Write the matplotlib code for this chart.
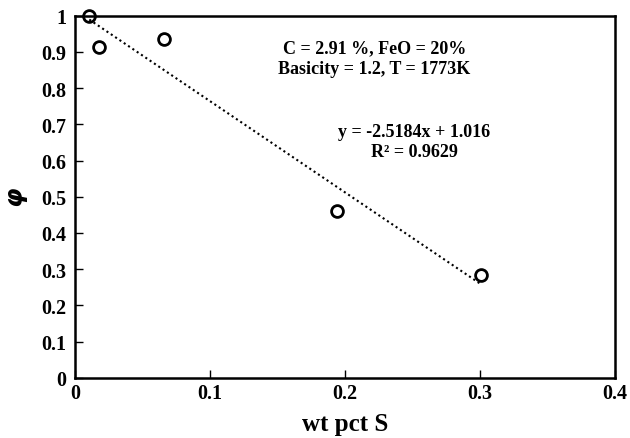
import numpy as np
import matplotlib.pyplot as plt

plt.rcParams['font.family'] = ['Liberation Serif', 'DejaVu Serif']
plt.rcParams['font.weight'] = 'bold'

wt_s = [0.0106, 0.018, 0.066, 0.194, 0.301]
phi = [1.0, 0.913, 0.936, 0.460, 0.284]
slope = -2.5184
intercept = 1.016

fig = plt.figure(figsize=(6.3, 4.39), dpi=100)
ax = fig.add_axes([0.119, 0.137, 0.857, 0.825])

xs = np.array([min(wt_s), max(wt_s)])
ax.plot(xs, slope * xs + intercept, color='black', linestyle=(0, (1, 1.5)), linewidth=1.5, zorder=2)
ax.plot(wt_s, phi, 'o', markersize=8.5, markerfacecolor='none', markeredgecolor='black',
        markeredgewidth=2, clip_on=False, zorder=3)

ax.set_xlim(0, 0.4)
ax.set_ylim(0, 1)
ax.set_xticks([0, 0.1, 0.2, 0.3, 0.4])
ax.set_xticklabels(['0', '0.1', '0.2', '0.3', '0.4'])
ax.set_yticks(np.arange(0, 1.01, 0.1))
ax.set_yticklabels(['0', '0.1', '0.2', '0.3', '0.4', '0.5', '0.6', '0.7', '0.8', '0.9', '1'])
ax.tick_params(direction='in', length=6, width=1, labelsize=14.5)
ax.tick_params(axis='x', pad=4)
ax.tick_params(axis='y', pad=6)
for s in ax.spines.values():
    s.set_linewidth(1.8)
for lbl in ax.get_xticklabels() + ax.get_yticklabels():
    lbl.set_fontweight('bold')

ax.set_xlabel('wt pct S', fontsize=18, fontweight='bold', labelpad=6)
ax.set_ylabel(r'$\varphi$', fontsize=18, labelpad=8)

ax.text(0.222, 0.883, 'C = 2.91 %, FeO = 20%\nBasicity = 1.2, T = 1773K', fontsize=13,
        fontweight='bold', ha='center', va='center', linespacing=1.25)
ax.text(0.2515, 0.653, 'y = -2.5184x + 1.016\nR² = 0.9629', fontsize=13,
        fontweight='bold', ha='center', va='center', linespacing=1.25)

fig.savefig('out.png', dpi=100)
